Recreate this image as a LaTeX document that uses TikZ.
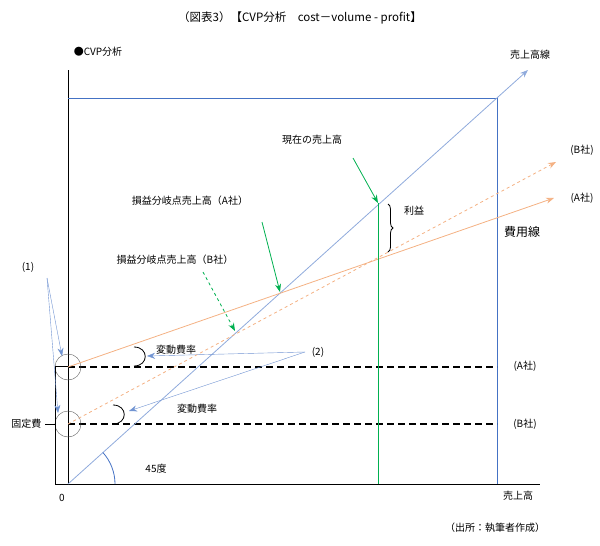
\documentclass[tikz,border=0pt]{standalone}
\usepackage{fontspec}
\newfontfamily\jp{Noto Sans CJK JP}
\usetikzlibrary{arrows.meta,decorations.pathreplacing}
\definecolor{boxblue}{RGB}{68,114,196}
\definecolor{salesblue}{RGB}{143,170,220}
\definecolor{costor}{RGB}{244,177,131}
\definecolor{arrgreen}{RGB}{0,176,80}
\begin{document}
\begin{tikzpicture}[x=1pt,y=-1pt,>={Stealth[length=8pt]},
    lbl/.style={font=\jp\fontsize{10}{12}\selectfont},
    ptr/.style={->,salesblue!60!boxblue},
    fixline/.style={line width=1.8pt,dash pattern=on 7pt off 4pt}]
  \useasboundingbox (0,0) rectangle (600,546);
  \node[lbl,font=\jp\fontsize{11.5}{13}\selectfont] (title) at (300,18) {（図表3）【CVP分析　cost－volume - profit】};
  \node[lbl] (cvp) at (98,52) {●CVP分析};
  % axes and box
  \coordinate (O) at (68,484);
  \draw[thick] (68,70) -- (O) -- (540,484);
  \draw[boxblue,thick] (68,98) -- (497,98) -- (497,484);
  \node[lbl] (zero) at (62,498) {0};
  \node[lbl] (xlab) at (518,496) {売上高};
  % fixed costs
  \coordinate (fa) at (68,367);
  \coordinate (fb) at (68,424);
  \draw[fixline] (fa) -- (497,367);
  \draw[fixline] (fb) -- (497,424);
  \node[lbl] (la) at (525,366) {(A社)};
  \node[lbl] (lb) at (525,424) {(B社)};
  \draw[gray!70!black] (fa) circle (13) (fb) circle (13);
  \draw[thick] (45,424) -- (55,424) (68,366) -- (55,366) -- (55,484) -- (68,484);
  \node[lbl,anchor=east] (kotei) at (45,424) {固定費};
  % lines
  \coordinate (se) at (528,70);
  \draw[->,salesblue,thick] (O) -- (se);
  \node[lbl] (sl) at (530,55) {売上高線};
  \draw[->,costor,thick] (fa) -- (554,198);
  \draw[->,costor,thick,dashed] (fb) -- (556,162);
  \node[lbl] (ca) at (582,198) {(A社)};
  \node[lbl] (cb) at (582,150) {(B社)};
  \node[lbl,font=\jp\fontsize{12}{14}\selectfont] (hiyo) at (522,232) {費用線};
  % current sales
  \coordinate (cur) at (378,203);
  \draw[arrgreen,thick] (cur) -- (378,484);
  \node[lbl] (genzai) at (312,140) {現在の売上高};
  \draw[->,arrgreen,thick] (353,158) -- (cur);
  \draw[decorate,decoration={brace,amplitude=5pt},thick] (388,204) -- (388,252);
  \node[lbl] (rieki) at (414,211) {利益};
  \node[lbl] (bea) at (190,201) {損益分岐点売上高（A社）};
  \draw[->,arrgreen,thick] (262,222) -- (280,292);
  \node[lbl] (beb) at (175,260) {損益分岐点売上高（B社）};
  \draw[->,arrgreen,thick,dashed] (203,272) -- (235,331);
  % pointers
  \node[lbl] (p1) at (28,267) {(1)};
  \draw[ptr] (47,278) -- (62,356);
  \draw[ptr] (47,278) -- (58,413);
  \node[lbl] (p2) at (318,352) {(2)};
  \draw[ptr] (305,352) -- (147,356);
  \draw[ptr] (305,352) -- (129,411);
  \draw[thick] (134,347) .. controls (149,347) and (149,366) .. (134,366);
  \draw[thick] (113,405) .. controls (128,405) and (128,424) .. (113,424);
  \node[lbl] (v1) at (176,350) {変動費率};
  \node[lbl] (v2) at (197,409) {変動費率};
  \draw[boxblue,thick] (115,484) arc (0:-42:47);
  \node[lbl] (deg) at (156,469) {45度};
  \node[lbl] (src) at (495,528) {（出所：執筆者作成）};
\end{tikzpicture}
\end{document}
